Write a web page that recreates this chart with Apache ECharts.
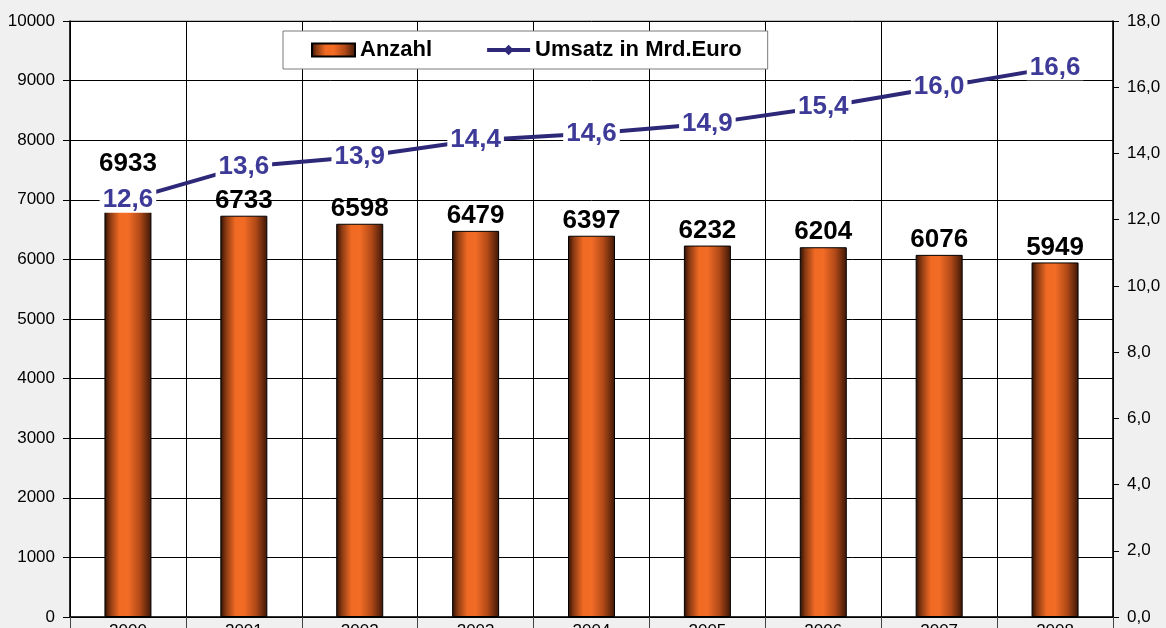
<!DOCTYPE html>
<html><head><meta charset="utf-8">
<script src="https://cdn.jsdelivr.net/npm/echarts@6/dist/echarts.min.js"></script>
<style>html,body{margin:0;padding:0;background:#f0f0f0}#c{width:1166px;height:628px}</style>
</head><body><div id="c"></div>
<script>
const years = ['2000','2001','2002','2003','2004','2005','2006','2007','2008'];
const anzahl = [6933, 6733, 6598, 6479, 6397, 6232, 6204, 6076, 5949];
const umsatz = [12.6, 13.6, 13.9, 14.4, 14.6, 14.9, 15.4, 16.0, 16.6];
const leftTicks = [0, 10000, 1000];
const rightTicks = [0, 18, 2];

const FONT = '"Liberation Sans", Arial, sans-serif';
const barGrad = new echarts.graphic.LinearGradient(0, 0, 1, 0, [
  {offset: 0, color: '#2a0f04'},
  {offset: 0.12, color: '#8a3a12'},
  {offset: 0.32, color: '#f06a24'},
  {offset: 0.5, color: '#f36c26'},
  {offset: 0.75, color: '#b24a18'},
  {offset: 1, color: '#3c1606'}
]);
const chart = echarts.init(document.getElementById('c'));
chart.setOption({
  backgroundColor: '#f0f0f0',
  animation: false,
  textStyle: {fontFamily: FONT},
  grid: {left: 70, right: 53, top: 21, bottom: 11, show: true, backgroundColor: '#ffffff', borderColor: '#8a8a8a', borderWidth: 1, containLabel: false, outerBoundsMode: 'none'},
  legend: {
    left: 283, top: 31,
    padding: [8, 26, 8, 28],
    itemGap: 53,
    backgroundColor: '#ffffff', borderColor: '#7a7a7a', borderWidth: 1,
    itemWidth: 43, itemHeight: 13,
    textStyle: {fontFamily: FONT, fontWeight: 'bold', fontSize: 22, color: '#000'},
    data: [
      {name: 'Anzahl', icon: 'rect'},
      {name: 'Umsatz in Mrd.Euro', lineStyle: {width: 4}}
    ]
  },
  xAxis: {
    type: 'category', data: years, boundaryGap: true,
    axisLine: {lineStyle: {color: '#000', width: 1.5}},
    axisTick: {show: true, length: 12, inside: false, lineStyle: {color: '#444'}},
    axisLabel: {fontFamily: FONT, fontSize: 17, color: '#000', margin: 6},
    splitLine: {show: true, lineStyle: {color: '#000', width: 1}}
  },
  yAxis: [
    {
      type: 'value', min: leftTicks[0], max: leftTicks[1], interval: leftTicks[2],
      axisLine: {show: true, lineStyle: {color: '#000', width: 1.5}},
      axisTick: {show: true, length: 7, lineStyle: {color: '#000'}},
      axisLabel: {fontFamily: FONT, fontSize: 17, color: '#000', margin: 15, formatter: v => String(v)},
      splitLine: {show: true, lineStyle: {color: '#000', width: 1}}
    },
    {
      type: 'value', min: rightTicks[0], max: rightTicks[1], interval: rightTicks[2],
      position: 'right',
      axisLine: {show: true, lineStyle: {color: '#000', width: 1.5}},
      axisTick: {show: true, length: 6, lineStyle: {color: '#000'}},
      axisLabel: {fontFamily: FONT, fontSize: 17, color: '#000', margin: 14,
        formatter: v => v.toFixed(1).replace('.', ',')},
      splitLine: {show: false}
    }
  ],
  series: [
    {
      name: 'Anzahl', type: 'bar', yAxisIndex: 0, barWidth: 47, z: 2,
      itemStyle: {color: barGrad, borderColor: '#000', borderWidth: 1},
      data: anzahl.map((v, i) => i === 0 ? {value: v, label: {distance: 27}} : v),
      label: {show: true, position: 'top', distance: 2, fontFamily: FONT, fontWeight: 'bold', fontSize: 26, color: '#000'}
    },
    {
      name: 'Umsatz in Mrd.Euro', type: 'line', yAxisIndex: 1, z: 5,
      data: umsatz,
      symbol: 'diamond', symbolSize: 13,
      lineStyle: {color: '#2d2878', width: 4},
      itemStyle: {color: '#2d2878'},
      label: {show: true, position: 'inside', fontFamily: FONT, fontWeight: 'bold', fontSize: 26,
        color: '#3d3a98', backgroundColor: '#ffffff', padding: [0, 3],
        formatter: p => p.value.toFixed(1).replace('.', ',')}
    }
  ]
});
</script></body></html>
